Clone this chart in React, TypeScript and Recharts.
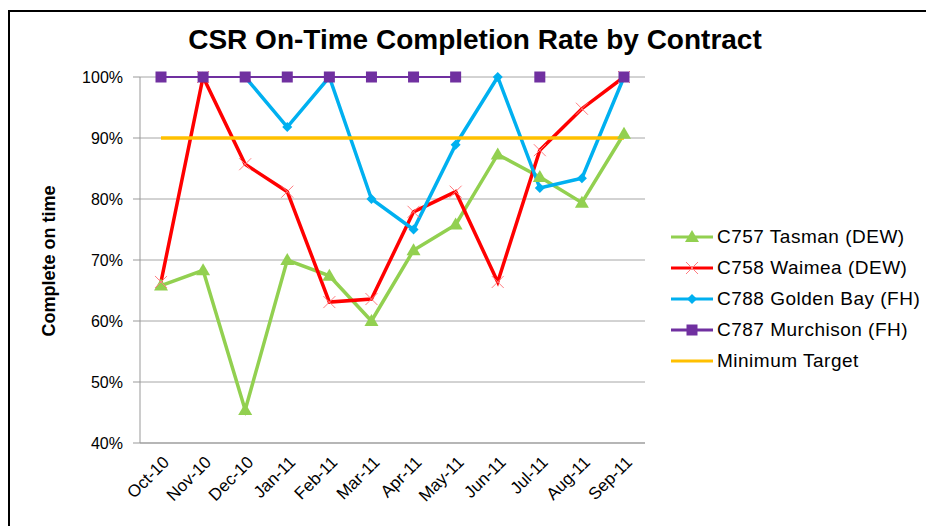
import { LineChart, Line, XAxis, YAxis, CartesianGrid } from 'recharts';

const FONT = '"Liberation Sans", Arial, sans-serif';

const months = ['Oct-10', 'Nov-10', 'Dec-10', 'Jan-11', 'Feb-11', 'Mar-11', 'Apr-11', 'May-11', 'Jun-11', 'Jul-11', 'Aug-11', 'Sep-11'];
const tasman = [65.8, 68.3, 45.4, 70, 67.4, 60, 71.6, 75.8, 87.3, 83.6, 79.4, 90.7];
const waimea = [66.4, 100, 85.7, 81.2, 63.1, 63.6, 77.9, 81.2, 66.4, 88, 94.8, 100];
const goldenBay = [null, null, 100, 91.8, 100, 80, 75, 88.9, 100, 81.8, 83.4, 100];
const murchison = [100, 100, 100, 100, 100, 100, 100, 100, null, 100, null, 100];
const minTarget = [90, 90, 90, 90, 90, 90, 90, 90, 90, 90, 90, 90];
const yTicks = [40, 50, 60, 70, 80, 90, 100];

const C = {
  tasman: '#92D050',
  waimea: '#FF0000',
  waimeaMark: '#FF7C80',
  golden: '#00B0F0',
  murch: '#7030A0',
  target: '#FFC000',
  grid: '#A6A6A6',
};

const data = months.map((m, i) => ({
  month: m,
  tasman: tasman[i],
  waimea: waimea[i],
  goldenBay: goldenBay[i],
  murchison: murchison[i],
  minTarget: minTarget[i],
}));

const series = [
  { key: 'tasman', name: 'C757 Tasman (DEW)', color: C.tasman, mark: 'tri' },
  { key: 'waimea', name: 'C758 Waimea (DEW)', color: C.waimea, mark: 'x' },
  { key: 'goldenBay', name: 'C788 Golden Bay (FH)', color: C.golden, mark: 'dia' },
  { key: 'murchison', name: 'C787 Murchison (FH)', color: C.murch, mark: 'sq' },
  { key: 'minTarget', name: 'Minimum Target', color: C.target, mark: 'none' },
];

function Marker({ cx, cy, kind }: { cx: number; cy: number; kind: string }) {
  if (cx == null || cy == null || isNaN(cy)) return null;
  if (kind === 'tri')
    return <path d={`M${cx},${cy - 7} L${cx + 7},${cy + 5} L${cx - 7},${cy + 5} Z`} fill={C.tasman} />;
  if (kind === 'x')
    return (
      <g stroke={C.waimeaMark} strokeWidth={1}>
        <line x1={cx - 6} y1={cy - 6} x2={cx + 6} y2={cy + 6} />
        <line x1={cx - 6} y1={cy + 6} x2={cx + 6} y2={cy - 6} />
      </g>
    );
  if (kind === 'dia')
    return <path d={`M${cx},${cy - 5} L${cx + 5},${cy} L${cx},${cy + 5} L${cx - 5},${cy} Z`} fill={C.golden} />;
  if (kind === 'sq')
    return <rect x={cx - 5.5} y={cy - 5.5} width={11} height={11} fill={C.murch} />;
  return null;
}

const XTick = (props: any) => {
  const { x, y, payload } = props;
  const tx = x + 5;
  const ty = y + 10;
  return (
    <text x={tx} y={ty} transform={`rotate(-45, ${tx}, ${ty})`} textAnchor="end" dy="0.35em"
      fill="#000" fontSize={17} fontFamily={FONT}>
      {payload.value}
    </text>
  );
};

const LegendBox = () => (
  <div style={{ position: 'absolute', left: 670, top: 221, width: 256, fontFamily: FONT, fontSize: 19, letterSpacing: 0.5, color: '#000' }}>
    {series.map((s) => (
      <div key={s.key} style={{ display: 'flex', alignItems: 'center', height: 31, whiteSpace: 'nowrap' }}>
        <svg width={44} height={16} style={{ marginRight: 3, flex: 'none' }}>
          <line x1={1} y1={8} x2={43} y2={8} stroke={s.color} strokeWidth={3} />
          <Marker cx={22} cy={8} kind={s.mark} />
        </svg>
        <span>{s.name}</span>
      </div>
    ))}
  </div>
);

export default function App() {
  return (
    <div style={{ position: 'absolute', left: 0, top: 0, width: 926, height: 526, background: '#fff', overflow: 'hidden' }}>
      <div style={{ position: 'absolute', left: 8, top: 10, width: 940, height: 540, border: '2px solid #000' }} />
      <div style={{ position: 'absolute', left: 0, top: 24, width: 950, textAlign: 'center', fontFamily: FONT, fontWeight: 700, fontSize: 28, color: '#000' }}>
        CSR On-Time Completion Rate by Contract
      </div>
      <div style={{ position: 'absolute', left: 49, top: 261, transform: 'translate(-50%, -50%) rotate(-90deg)', whiteSpace: 'nowrap', fontFamily: FONT, fontWeight: 700, fontSize: 18, color: '#000' }}>
        Complete on time
      </div>
      <div style={{ position: 'absolute', left: 0, top: 0 }}>
        <LineChart width={926} height={526} data={data} margin={{ top: 77, right: 281, bottom: 13, left: 80 }}>
          <CartesianGrid vertical={false} stroke={C.grid} strokeWidth={1} />
          <XAxis dataKey="month" interval={0} padding={{ left: 21, right: 21 }} height={70}
            axisLine={{ stroke: '#999' }} tickLine={false} tick={<XTick />} tickMargin={0} />
          <YAxis type="number" domain={[40, 100]} ticks={yTicks} width={60} interval={0}
            axisLine={{ stroke: '#999' }} tickLine={{ stroke: '#999' }} tickSize={7} tickMargin={10}
            tickFormatter={(v) => `${v}%`}
            tick={{ fill: '#000', fontSize: 16, fontFamily: FONT }} />
          {series.map((s) => (
            <Line key={s.key} type="linear" dataKey={s.key} name={s.name} stroke={s.color}
              strokeWidth={s.key === 'murchison' ? 2 : 3.5}
              dot={s.mark === 'none' ? false : (p: any) => <Marker key={`${s.key}-${p.index}`} cx={p.cx} cy={p.cy} kind={s.mark} />}
              activeDot={false} connectNulls={false} isAnimationActive={false} />
          ))}
        </LineChart>
      </div>
      <LegendBox />
    </div>
  );
}
